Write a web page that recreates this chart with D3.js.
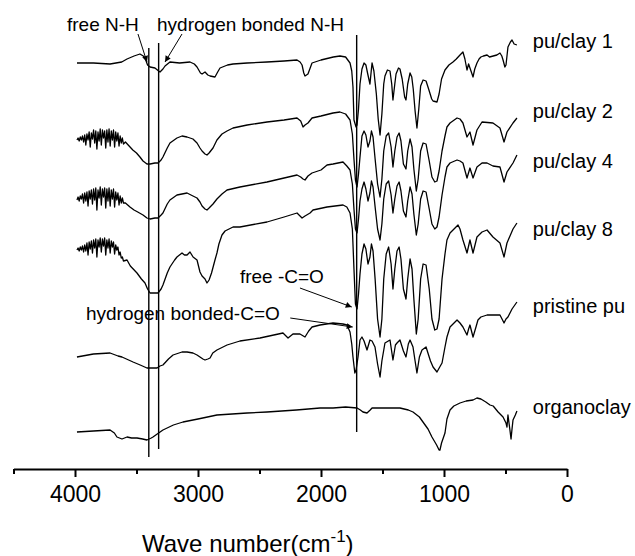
<!DOCTYPE html>
<html>
<head>
<meta charset="utf-8">
<script src="https://cdn.jsdelivr.net/npm/d3@7"></script>
<style>
  body { margin: 0; background: #fff; }
  svg { display: block; font-family: Arial, "Liberation Sans", sans-serif; }
  .curve { fill: none; stroke: #000; stroke-width: 1.3; stroke-linejoin: round; }
  .marker-line { stroke: #000; stroke-width: 1.4; }
</style>
</head>
<body>
<div class="chart"></div>
<script>
// FTIR spectra, [wave number (cm-1), transmittance (a.u., stacked)]
const puClay1 = [[3984,406],[3850,406],[3715,405],[3620,407],[3577,410],[3520,413],[3472,415],[3445,413],[3431,411],[3410,404],[3390,402],[3350,401],[3320,398],[3309,397],[3285,400],[3268,403],[3228,407],[3150,406],[3065,407],[3030,405],[3008,402],[2980,396],[2967,395],[2943,397],[2920,394],[2902,393],[2862,392],[2840,397],[2821,401],[2760,404],[2715,405],[2600,406],[2439,407],[2300,408],[2195,409],[2170,407],[2154,404],[2140,396],[2130,393],[2106,395],[2085,402],[2073,406],[2000,409],[1900,412],[1846,413],[1800,412],[1764,406],[1750,398],[1740,382],[1732,349],[1715,342],[1707,344],[1695,360],[1683,385],[1667,400],[1650,406],[1635,404],[1620,395],[1602,385],[1590,400],[1585,406],[1570,398],[1550,375],[1535,350],[1520,334],[1505,355],[1490,385],[1480,393],[1460,399],[1439,398],[1425,385],[1415,369],[1400,385],[1390,395],[1370,401],[1358,400],[1340,390],[1320,372],[1309,369],[1295,385],[1276,396],[1262,392],[1250,380],[1235,358],[1220,341],[1205,360],[1190,383],[1170,389],[1146,388],[1125,380],[1100,370],[1089,368],[1057,367],[1040,375],[1020,390],[992,399],[960,404],[927,407],[900,410],[870,414],[846,417],[830,410],[813,399],[800,405],[789,401],[775,396],[764,392],[750,400],[732,406],[715,410],[700,412],[680,413],[650,414],[630,412],[600,413],[570,414],[545,416],[530,413],[520,409],[505,402],[496,404],[480,422],[460,427],[447,429],[430,425],[407,424]];

const puClay2 = [[3984,329],[3975,331],[3966,328],[3957,332],[3948,329],[3939,333],[3930,327],[3921,334],[3912,324],[3903,335],[3894,329],[3885,337],[3876,322],[3867,336],[3858,330],[3849,339],[3840,326],[3831,338],[3822,320],[3813,337],[3804,328],[3795,340],[3786,324],[3777,339],[3768,331],[3759,338],[3750,321],[3741,339],[3732,327],[3723,340],[3714,323],[3705,338],[3696,329],[3687,339],[3678,322],[3669,337],[3660,328],[3651,336],[3642,323],[3633,333],[3624,326],[3615,331],[3606,325],[3590,327],[3560,323],[3530,319],[3500,316],[3472,312],[3447,308],[3415,305],[3390,305],[3350,306],[3325,306],[3300,309],[3285,312],[3250,321],[3228,326],[3171,331],[3130,333],[3089,332],[3041,330],[3008,326],[2984,321],[2967,318],[2943,315],[2927,314],[2910,316],[2878,321],[2846,329],[2805,335],[2764,338],[2715,341],[2600,344],[2439,347],[2300,349],[2195,351],[2165,348],[2146,342],[2130,344],[2106,346],[2073,351],[2000,353],[1902,356],[1846,357],[1800,355],[1764,349],[1745,335],[1732,310],[1720,289],[1707,282],[1695,295],[1683,312],[1667,333],[1650,338],[1635,334],[1618,322],[1602,328],[1590,338],[1577,332],[1560,310],[1540,285],[1520,272],[1505,290],[1490,318],[1470,333],[1450,336],[1430,322],[1415,302],[1400,318],[1382,332],[1365,336],[1350,328],[1330,305],[1309,300],[1295,318],[1276,330],[1260,322],[1245,300],[1225,278],[1210,290],[1190,318],[1170,326],[1146,325],[1120,308],[1098,292],[1075,287],[1057,288],[1040,298],[1016,318],[992,333],[976,342],[951,346],[894,351],[870,350],[846,346],[813,332],[789,337],[764,324],[732,339],[691,347],[602,346],[545,341],[512,327],[488,337],[439,346],[407,351]];

const puClay4 = [[3984,269],[3975,272],[3966,268],[3957,273],[3948,270],[3939,275],[3930,266],[3921,276],[3912,268],[3903,277],[3894,263],[3885,278],[3876,270],[3867,279],[3858,265],[3849,280],[3840,269],[3831,281],[3822,259],[3813,279],[3804,271],[3795,282],[3786,264],[3777,280],[3768,272],[3759,281],[3750,261],[3741,280],[3732,268],[3723,281],[3714,263],[3705,279],[3696,270],[3687,280],[3678,262],[3669,277],[3660,269],[3651,276],[3642,264],[3633,273],[3624,266],[3615,271],[3606,266],[3590,266],[3553,262],[3520,259],[3490,257],[3447,254],[3415,251],[3390,250],[3350,251],[3325,251],[3300,254],[3285,256],[3250,265],[3228,269],[3171,274],[3130,275],[3089,276],[3041,273],[3008,271],[2984,267],[2967,263],[2943,260],[2927,259],[2910,261],[2878,265],[2846,270],[2805,275],[2764,279],[2659,282],[2439,287],[2300,291],[2195,294],[2165,292],[2146,290],[2130,289],[2106,293],[2073,296],[2000,299],[1951,304],[1902,305],[1821,307],[1790,303],[1764,299],[1745,285],[1732,260],[1720,240],[1707,236],[1695,250],[1683,268],[1667,280],[1650,287],[1635,280],[1618,268],[1602,276],[1590,288],[1577,282],[1560,262],[1540,240],[1520,229],[1505,245],[1490,270],[1470,285],[1450,288],[1430,274],[1415,256],[1400,270],[1382,283],[1365,287],[1350,278],[1330,258],[1309,252],[1295,268],[1276,282],[1260,275],[1245,255],[1225,234],[1210,245],[1190,270],[1170,278],[1146,277],[1120,260],[1098,245],[1075,240],[1057,242],[1040,252],[1016,274],[992,292],[976,302],[951,306],[894,309],[870,308],[846,306],[813,291],[789,301],[764,291],[732,302],[691,306],[650,306],[602,303],[545,302],[512,287],[488,297],[439,306],[407,314]];

const puClay8 = [[3984,219],[3975,221],[3966,218],[3957,222],[3948,219],[3939,223],[3930,217],[3921,224],[3912,218],[3903,226],[3894,214],[3885,227],[3876,220],[3867,228],[3858,216],[3849,229],[3840,221],[3831,230],[3822,212],[3813,229],[3804,222],[3795,231],[3786,217],[3777,230],[3768,223],[3759,231],[3750,214],[3741,229],[3732,221],[3723,230],[3714,216],[3705,228],[3696,222],[3687,227],[3678,215],[3669,224],[3660,219],[3651,222],[3642,214],[3633,217],[3624,211],[3615,212],[3606,208],[3577,209],[3550,203],[3496,196],[3460,190],[3431,186],[3410,180],[3390,176],[3350,176],[3325,176],[3300,180],[3285,184],[3250,196],[3228,202],[3190,209],[3171,212],[3130,216],[3110,214],[3089,214],[3065,217],[3040,212],[3008,209],[2984,197],[2967,193],[2943,190],[2927,186],[2910,189],[2890,196],[2862,209],[2846,216],[2830,225],[2805,234],[2780,238],[2764,239],[2715,242],[2659,242],[2439,247],[2300,252],[2195,256],[2154,251],[2130,253],[2089,256],[2065,259],[1951,262],[1821,264],[1790,262],[1764,256],[1745,240],[1732,200],[1720,165],[1707,160],[1695,175],[1683,195],[1667,215],[1650,225],[1635,220],[1618,205],[1602,212],[1590,225],[1577,218],[1560,190],[1540,150],[1520,132],[1505,150],[1490,190],[1470,215],[1450,222],[1430,205],[1415,180],[1400,200],[1382,218],[1365,222],[1350,210],[1330,180],[1309,170],[1295,190],[1276,210],[1260,200],[1245,170],[1225,135],[1210,150],[1190,190],[1170,205],[1146,204],[1120,180],[1098,150],[1075,139],[1057,140],[1040,150],[1016,190],[992,215],[976,229],[951,236],[886,244],[870,240],[846,229],[813,216],[789,229],[764,216],[732,232],[691,237],[650,239],[602,232],[545,226],[512,212],[488,226],[439,240],[407,246]];

const pristinePu = [[3984,112],[3850,115],[3715,116],[3650,113],[3618,112],[3528,107],[3470,104],[3415,101],[3366,101],[3333,101],[3309,103],[3285,104],[3240,110],[3203,114],[3130,117],[3089,117],[3041,116],[3008,114],[2984,112],[2960,110],[2943,109],[2920,110],[2902,111],[2880,116],[2846,119],[2764,124],[2659,128],[2496,131],[2309,136],[2268,131],[2228,135],[2171,135],[2130,132],[2100,138],[2073,142],[2008,144],[1902,146],[1821,145],[1789,144],[1764,137],[1750,125],[1740,112],[1725,96],[1715,99],[1699,112],[1683,129],[1667,132],[1650,128],[1626,119],[1602,129],[1585,128],[1561,122],[1540,105],[1520,92],[1505,108],[1480,126],[1439,129],[1415,109],[1395,124],[1382,126],[1358,129],[1330,118],[1309,112],[1290,125],[1276,129],[1252,122],[1235,108],[1220,96],[1200,112],[1179,119],[1146,122],[1110,108],[1089,102],[1057,97],[1030,103],[1016,106],[992,122],[976,132],[951,142],[894,149],[870,146],[846,142],[813,134],[800,140],[789,144],[764,132],[740,142],[724,149],[700,152],[650,154],[602,154],[545,154],[520,148],[512,146],[496,150],[480,152],[447,160],[407,167]];

const organoclay = [[3984,37],[3850,38],[3715,39],[3680,36],[3659,32],[3618,30],[3577,32],[3540,31],[3496,31],[3450,30],[3415,29],[3380,31],[3366,32],[3320,36],[3285,39],[3200,44],[3122,47],[3000,50],[2846,54],[2600,56],[2439,57],[2200,59],[2008,61],[1902,61],[1800,62],[1707,61],[1680,59],[1659,57],[1626,56],[1600,59],[1585,61],[1500,61],[1358,61],[1290,59],[1252,57],[1200,52],[1171,47],[1130,40],[1098,32],[1060,24],[1040,19],[1033,19],[1020,26],[992,36],[976,50],[951,59],[920,63],[870,66],[820,68],[764,69],[732,71],[700,70],[660,67],[626,64],[600,63],[560,57],[520,52],[496,46],[488,42],[480,54],[463,38],[455,30],[447,40],[439,49],[420,54],[407,58]];

const seriesNames = ['pu/clay 1', 'pu/clay 2', 'pu/clay 4', 'pu/clay 8', 'pristine pu', 'organoclay'];
const seriesData = [puClay1, puClay2, puClay4, puClay8, pristinePu, organoclay];
const labelLevels = [427, 357, 307, 239, 162, 61];

const majorTicks = [4000, 3000, 2000, 1000, 0];
const minorTicks = [4500, 3500, 2500, 1500, 500];

// band marker lines: wave number, bottom, top
const bandLines = [[3400, 12, 421], [3320, 20, 426], [1710, 37, 434]];

// annotation text: label, text at [wn, T], arrow from [wn, T] to [wn, T]
const notes = [
  ['free N-H', [4065, 438], [3488, 435], [3415, 407]],
  ['hydrogen bonded N-H', [3333, 438], [3130, 435], [3268, 407]],
  ['free -C=O', [2659, 186], [2171, 181], [1750, 162]],
  ['hydrogen bonded-C=O', [3911, 149], [2250, 151], [1742, 142]]
];

const width = 635, height = 556;

const x = d3.scaleLinear().domain([4500, 0]).range([13.5, 567]);
const y = d3.scaleLinear().domain([0, 469]).range([469, 0]);

const svg = d3.select('.chart')
.append('svg')
.attr('width', width)
.attr('height', height);

svg.append('defs')
.append('marker')
.attr('id', 'head')
.attr('viewBox', '0 0 10 10')
.attr('refX', 10)
.attr('refY', 5)
.attr('markerWidth', 7)
.attr('markerHeight', 6)
.attr('markerUnits', 'userSpaceOnUse')
.attr('orient', 'auto')
.append('path')
.attr('d', 'M0,0L10,5L0,10z')
.attr('fill', '#000');

const line = d3.line()
.x(d => x(d[0]))
.y(d => y(d[1]));

svg.append('g')
.selectAll('path')
.data(seriesData)
.enter()
.append('path')
.attr('class', 'curve')
.attr('d', line);

svg.append('g')
.selectAll('line')
.data(bandLines)
.enter()
.append('line')
.attr('class', 'marker-line')
.attr('x1', d => x(d[0]))
.attr('x2', d => x(d[0]))
.attr('y1', d => y(d[1]))
.attr('y2', d => y(d[2]));

svg.append('g')
.selectAll('text')
.data(seriesNames)
.enter()
.append('text')
.attr('x', x(278))
.attr('y', (d, i) => y(labelLevels[i]))
.attr('dy', '0.32em')
.attr('font-size', 20)
.text(d => d);

const ann = svg.append('g');

ann.selectAll('text')
.data(notes)
.enter()
.append('text')
.attr('x', d => x(d[1][0]))
.attr('y', d => y(d[1][1]))
.attr('font-size', 19)
.text(d => d[0]);

ann.selectAll('line')
.data(notes)
.enter()
.append('line')
.attr('x1', d => x(d[2][0]))
.attr('y1', d => y(d[2][1]))
.attr('x2', d => x(d[3][0]))
.attr('y2', d => y(d[3][1]))
.attr('stroke', '#000')
.attr('stroke-width', 1)
.attr('marker-end', 'url(#head)');

// x axis
const axisG = svg.append('g')
.attr('transform', 'translate(0,469)');

axisG.append('g')
.call(d3.axisBottom(x).tickValues(minorTicks).tickSize(5).tickSizeOuter(0).tickFormat(''))
.call(g => g.select('.domain').attr('stroke-width', 2.2));

axisG.append('g')
.call(d3.axisBottom(x).tickValues(majorTicks).tickSize(8).tickSizeOuter(0).tickPadding(9).tickFormat(d3.format('d')))
.call(g => g.select('.domain').remove())
.call(g => g.selectAll('text').attr('font-size', 23).attr('fill', '#000').attr('font-family', 'Arial, "Liberation Sans", sans-serif'));

axisG.selectAll('.tick line').attr('stroke-width', 2);

const title = svg.append('text')
.attr('x', 142)
.attr('y', 552)
.attr('font-size', 24);

title.append('tspan').text('Wave number(cm');
title.append('tspan').attr('dy', -10).attr('font-size', 17).text('-1');
title.append('tspan').attr('dy', 10).text(')');
</script>
</body>
</html>
